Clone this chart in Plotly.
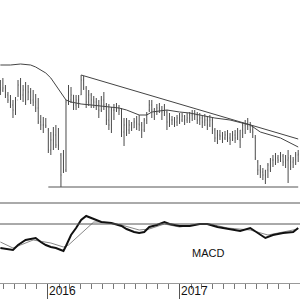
import pandas as pd
import plotly.graph_objects as go

# ---- weekly price bars (arbitrary price units) ----
start_date = "2015-08-22"
n_weeks = 119
high = [170, 172, 165, 158, 155, 150, 153, 170, 172, 165, 168, 165, 162, 160, 156, 152, 135, 133, 132, 122,
        118, 123, 125, 122, 97, 100, 150, 165, 163, 155, 155, 155, 175, 174, 164, 160, 157, 154, 152, 150,
        154, 158, 147, 146, 143, 146, 147, 145, 142, 132, 132, 130, 128, 132, 134, 135, 128, 132, 138, 150,
        150, 142, 146, 147, 144, 146, 140, 137, 134, 133, 135, 137, 137, 135, 137, 138, 140, 140, 138, 137,
        134, 136, 134, 135, 132, 122, 120, 120, 118, 119, 120, 117, 119, 120, 122, 120, 128, 130, 132, 128,
        124, 115, 90, 85, 82, 80, 87, 92, 95, 97, 95, 98, 96, 95, 100, 95, 93, 98, 100]
low = [155, 158, 152, 147, 142, 132, 135, 153, 150, 148, 145, 150, 146, 144, 138, 126, 120, 117, 122, 97,
       95, 100, 102, 100, 63, 77, 78, 145, 147, 140, 140, 142, 155, 160, 142, 144, 142, 142, 140, 132,
       138, 140, 125, 120, 117, 130, 138, 135, 113, 104, 114, 116, 119, 122, 120, 119, 112, 118, 126, 138,
       132, 130, 135, 137, 130, 134, 120, 123, 125, 123, 124, 126, 128, 125, 127, 127, 129, 130, 126, 125,
       122, 124, 120, 123, 116, 108, 106, 110, 107, 110, 108, 105, 109, 107, 110, 102, 112, 116, 120, 117,
       112, 90, 75, 72, 70, 66, 72, 78, 83, 85, 87, 88, 84, 82, 67, 80, 82, 85, 88]
close = [160, 162, 155, 150, 145, 140, 150, 165, 155, 160, 150, 158, 150, 148, 142, 128, 125, 125, 124, 100,
         110, 115, 105, 104, 75, 80, 148, 150, 155, 145, 150, 150, 170, 162, 148, 155, 150, 148, 145, 140,
         150, 145, 130, 125, 140, 140, 142, 140, 118, 125, 120, 125, 122, 128, 126, 125, 120, 130, 136, 145,
         140, 138, 142, 140, 138, 138, 128, 130, 130, 128, 132, 130, 134, 130, 132, 135, 136, 135, 130, 132,
         128, 130, 125, 130, 120, 112, 115, 114, 112, 115, 112, 110, 115, 112, 118, 120, 125, 126, 124, 120,
         118, 92, 80, 78, 75, 80, 85, 90, 90, 92, 90, 94, 88, 90, 92, 88, 90, 95, 96]
open_ = [162, 160, 162, 155, 150, 145, 140, 150, 165, 155, 160, 150, 158, 150, 148, 142, 128, 125, 125, 120,
         100, 110, 115, 105, 95, 78, 80, 150, 150, 155, 145, 150, 155, 170, 162, 148, 155, 150, 148, 145,
         140, 150, 145, 130, 125, 140, 140, 142, 140, 118, 125, 120, 125, 122, 128, 126, 125, 120, 130, 140,
         145, 140, 138, 142, 140, 138, 138, 128, 130, 130, 128, 132, 130, 134, 130, 132, 135, 136, 135, 130,
         132, 128, 130, 125, 130, 120, 112, 115, 114, 112, 115, 112, 110, 115, 112, 110, 120, 125, 126, 124,
         120, 112, 88, 80, 78, 75, 80, 85, 90, 90, 92, 90, 94, 88, 90, 92, 88, 90, 95]

# ---- moving average (sampled by week index) ----
ma_idx = [0, 4, 8, 12, 14, 16, 18, 20, 22, 24, 26, 28, 32, 36, 40, 43, 47, 50, 52, 55, 58, 60, 63, 66,
          71, 75, 79, 85, 91, 99, 103, 111, 118]
ma_val = [185, 185, 186, 185, 183, 180, 177, 172, 165, 157, 150, 148, 146, 145, 144, 143, 142, 140, 138,
          135, 135, 138, 139, 140, 138, 137, 135, 132, 130, 125, 118, 112, 103]

# ---- trend line and support line ----
trend_idx = [32, 118]
trend_val = [175, 111]
support_idx = [19, 118]
support_val = [63, 63]

# ---- MACD ----
macd_idx = [0, 2, 5, 7, 10, 12, 14, 16, 18, 20, 22, 24, 25, 26, 28, 30, 32, 34, 35, 37, 40, 44, 48, 50,
            52, 53, 55, 57, 59, 62, 65, 67, 71, 75, 79, 82, 86, 90, 95, 99, 102, 105, 108, 112, 116, 118]
macd_val = [-2.4, -2.5, -2.6, -2.1, -1.6, -1.5, -1.4, -1.8, -2.1, -2.3, -2.4, -2.6, -2.7, -2.2, -1.1, -0.4,
            0.4, 0.8, 0.7, 0.5, 0.2, 0.1, -0.2, -0.5, -0.7, -0.8, -0.9, -0.8, -0.3, -0.1, 0.2, 0.0, -0.2,
            -0.2, 0.0, 0.0, -0.3, -0.5, -0.7, -0.4, -0.9, -1.4, -1.1, -0.9, -0.8, -0.4]
signal_idx = [0, 5, 8, 13, 20, 25, 27, 37, 40, 48, 55, 59, 65, 71, 79, 83, 90, 99, 106, 112, 118]
signal_val = [-1.8, -2.4, -2.1, -1.6, -1.9, -2.3, -2.1, 0.2, 0.2, -0.1, -0.6, -0.5, 0.0, -0.3, 0.0, 0.0,
              -0.4, -0.6, -1.1, -0.8, -0.5]

year_ticks = ["2016-01-01", "2017-01-01"]
year_labels = ["2016", "2017"]

dates = pd.date_range(start_date, periods=n_weeks, freq="7D")
pick = lambda idx: [dates[i] for i in idx]

H = 300.0
price_dom = [1 - 203 / H, 1]
macd_dom = [1 - 283 / H, 1 - 203 / H]

fig = go.Figure()
bar_col = "#4a4a4a"
fig.add_trace(go.Ohlc(x=dates, open=open_, high=high, low=low, close=close,
                      increasing=dict(line=dict(color=bar_col, width=1)),
                      decreasing=dict(line=dict(color=bar_col, width=1)),
                      tickwidth=0.15, xaxis="x", yaxis="y", showlegend=False))
fig.add_trace(go.Scatter(x=pick(ma_idx), y=ma_val, mode="lines",
                         line=dict(color="#444", width=1), xaxis="x", yaxis="y", showlegend=False))
fig.add_trace(go.Scatter(x=pick(trend_idx), y=trend_val, mode="lines",
                         line=dict(color="#444", width=1), xaxis="x", yaxis="y", showlegend=False))
fig.add_trace(go.Scatter(x=pick(support_idx), y=support_val, mode="lines",
                         line=dict(color="#555", width=1), xaxis="x", yaxis="y", showlegend=False))
fig.add_trace(go.Scatter(x=pick(signal_idx), y=signal_val, mode="lines",
                         line=dict(color="#888", width=1), xaxis="x", yaxis="y2", showlegend=False))
fig.add_trace(go.Scatter(x=pick(macd_idx), y=macd_val, mode="lines",
                         line=dict(color="#111", width=2), xaxis="x", yaxis="y2", showlegend=False))

shapes = [
    dict(type="line", xref="paper", yref="y2", x0=0, x1=1, y0=0, y1=0,
         line=dict(color="#555", width=1)),
    dict(type="line", xref="paper", yref="paper", x0=0, x1=1, y0=1 - 203 / H, y1=1 - 203 / H,
         line=dict(color="#aaa", width=2)),
]

annotations = [
    dict(x=d, xref="x", y=1 - 299 / H, yref="paper", text=t, showarrow=False,
         xanchor="left", yanchor="bottom", xshift=0, borderpad=0,
         font=dict(family="Liberation Sans, Arial", size=12, color="#111"))
    for d, t in zip(year_ticks, year_labels)
]
annotations.append(dict(x=208 / H, xref="paper", y=1 - 253 / H, yref="paper", text="MACD",
                        showarrow=False, xanchor="center", yanchor="middle",
                        font=dict(family="Liberation Sans, Arial", size=11, color="#111")))

fig.update_layout(
    width=300, height=300, margin=dict(l=0, r=0, t=0, b=0),
    paper_bgcolor="white", plot_bgcolor="white",
    xaxis=dict(type="date", range=["2015-08-21", "2017-11-30"], anchor="y2",
               showgrid=False, zeroline=False, showline=True, linecolor="#999", linewidth=1,
               ticks="outside", tickvals=year_ticks, ticklen=15, tickcolor="#555", tickwidth=1,
               showticklabels=False, rangeslider=dict(visible=False),
               minor=dict(ticks="outside", dtick="M1", tick0="2015-09-01", ticklen=5,
                          tickcolor="#777", tickwidth=1, showgrid=False)),
    yaxis=dict(domain=price_dom, range=[47, 250], visible=False, fixedrange=True),
    yaxis2=dict(domain=macd_dom, range=[-5.9, 2.1], visible=False, fixedrange=True),
    shapes=shapes, annotations=annotations, showlegend=False,
)

fig.write_html("out.html")
